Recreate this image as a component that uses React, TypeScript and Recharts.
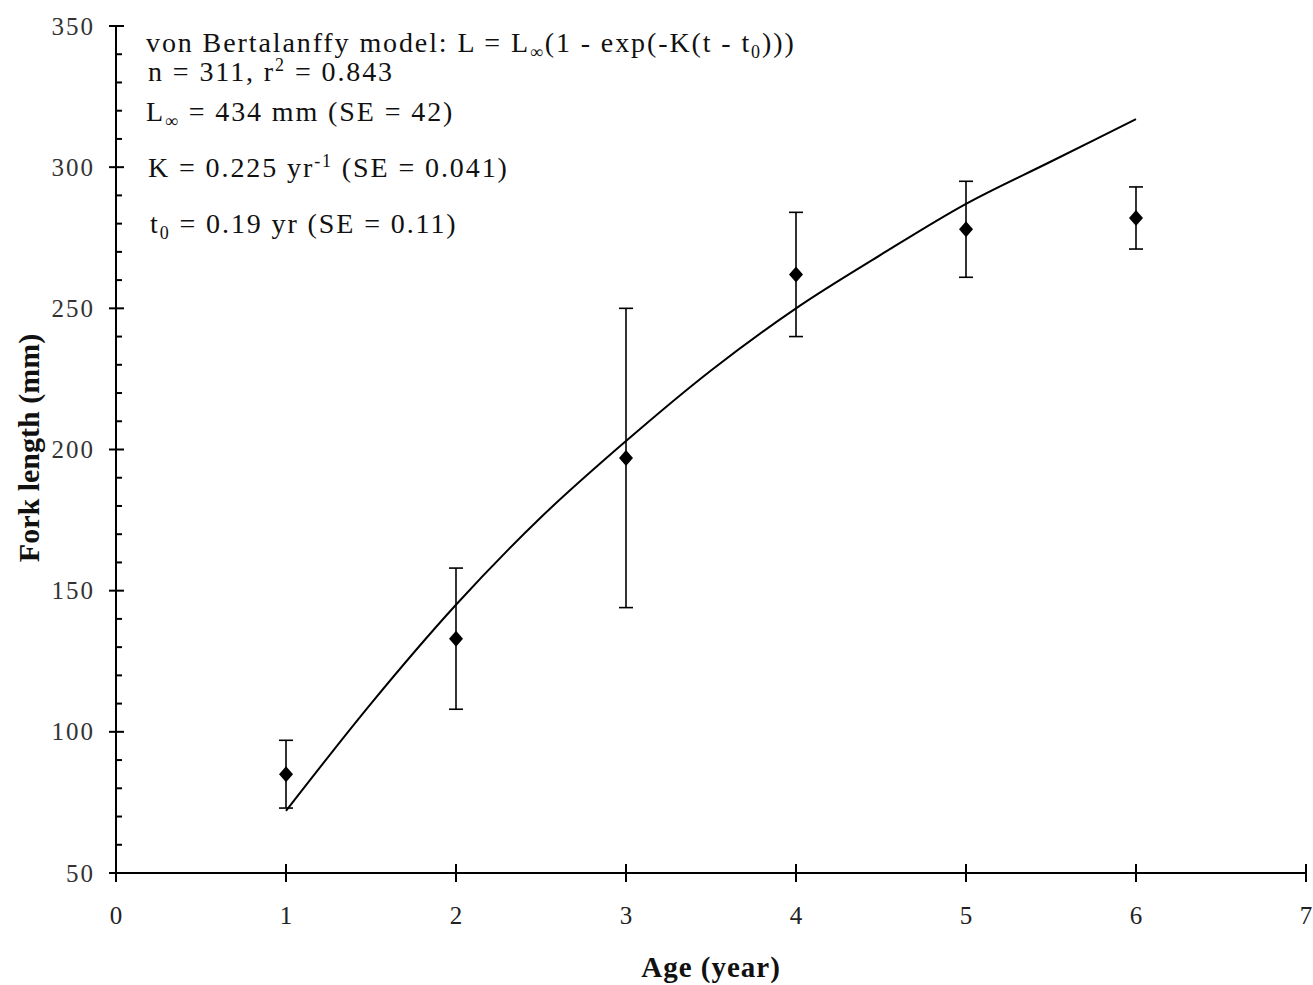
import React from 'react';
import { ComposedChart, Line, Scatter, XAxis, YAxis, ErrorBar } from 'recharts';

// Mean fork length by age class, with the range of the error bars
const ages = [1, 2, 3, 4, 5, 6];
const meanLength = [85, 133, 197, 262, 278, 282];
const lowLength = [73, 108, 144, 240, 261, 271];
const highLength = [97, 158, 250, 284, 295, 293];

// Fitted growth curve, read at half-year steps
const curveAge = [1, 1.5, 2, 2.5, 3, 3.5, 4, 4.5, 5, 5.5, 6];
const curveLength = [72, 110, 145, 176, 203, 228, 250, 269, 287, 302, 317];

const xTicks = [0, 1, 2, 3, 4, 5, 6, 7];
const yMajorTicks = [50, 100, 150, 200, 250, 300, 350];
const yTicks = [
  50, 60, 70, 80, 90, 100, 110, 120, 130, 140, 150, 160, 170, 180, 190, 200,
  210, 220, 230, 240, 250, 260, 270, 280, 290, 300, 310, 320, 330, 340, 350,
];

const pointData = ages.map((age, i) => ({
  age,
  mean: meanLength[i],
  err: [meanLength[i] - lowLength[i], highLength[i] - meanLength[i]],
}));

const curveData = curveAge.map((age, i) => ({ age, fit: curveLength[i] }));

const serif = '"Liberation Serif", "Times New Roman", serif';

const YTick = (props: any) => {
  const { x, y, payload } = props;
  const v = payload.value;
  const major = yMajorTicks.includes(v);
  return (
    <g>
      {major ? (
        <line x1={x - 7} x2={x + 8} y1={y} y2={y} stroke="#000" strokeWidth={2} />
      ) : (
        <line x1={x} x2={x + 6} y1={y} y2={y} stroke="#000" strokeWidth={2} />
      )}
      {major && (
        <text
          x={x - 21}
          y={y}
          textAnchor="end"
          dominantBaseline="central"
          fontFamily={serif}
          fontSize={25}
          letterSpacing={2}
          fill="#333"
        >
          {v}
        </text>
      )}
    </g>
  );
};

const XTick = (props: any) => {
  const { x, y, payload } = props;
  return (
    <g>
      <line x1={x} x2={x} y1={y - 9} y2={y + 9} stroke="#000" strokeWidth={2} />
      <text
        x={x}
        y={y + 42}
        textAnchor="middle"
        dominantBaseline="central"
        fontFamily={serif}
        fontSize={25}
        fill="#222"
      >
        {payload.value}
      </text>
    </g>
  );
};

const Diamond = (props: any) => {
  const { cx, cy } = props;
  return (
    <polygon
      points={`${cx},${cy - 8} ${cx + 7},${cy} ${cx},${cy + 8} ${cx - 7},${cy}`}
      fill="#000"
    />
  );
};

const sub = { fontSize: 18 };

export default function App() {
  return (
    <div
      style={{
        position: 'absolute',
        left: 0,
        top: 0,
        width: 1313,
        height: 985,
        overflow: 'hidden',
        background: '#fff',
      }}
    >
      <ComposedChart
        width={1313}
        height={985}
        margin={{ top: 26, right: 7, left: 0, bottom: 0 }}
      >
        <XAxis
          type="number"
          dataKey="age"
          domain={[0, 7]}
          ticks={xTicks}
          interval={0}
          height={112}
          tickSize={0}
          tickMargin={0}
          tickLine={false}
          axisLine={{ stroke: '#000', strokeWidth: 2 }}
          tick={<XTick />}
          allowDataOverflow
        />
        <YAxis
          type="number"
          domain={[50, 350]}
          ticks={yTicks}
          interval={0}
          width={116}
          tickSize={0}
          tickMargin={0}
          tickLine={false}
          axisLine={{ stroke: '#000', strokeWidth: 2 }}
          tick={<YTick />}
          allowDataOverflow
        />
        <Line
          data={curveData}
          dataKey="fit"
          type="monotone"
          stroke="#000"
          strokeWidth={2}
          dot={false}
          activeDot={false}
          isAnimationActive={false}
        />
        <Scatter
          data={pointData}
          dataKey="mean"
          shape={<Diamond />}
          isAnimationActive={false}
        >
          <ErrorBar
            dataKey="err"
            direction="y"
            width={7}
            stroke="#000"
            strokeWidth={1.6}
            isAnimationActive={false}
          />
        </Scatter>
      </ComposedChart>
      <svg
        width={1313}
        height={985}
        style={{ position: 'absolute', left: 0, top: 0, pointerEvents: 'none' }}
      >
        <g fontFamily={serif} fontSize={28} letterSpacing={1.9} fill="#111">
          <text x={146} y={52}>
            von Bertalanffy model: L = L
            <tspan dy={6} style={sub}>∞</tspan>
            <tspan dy={-6}>(1 - exp(-K(t - t</tspan>
            <tspan dy={6} style={sub}>0</tspan>
            <tspan dy={-6}>)))</tspan>
          </text>
          <text x={148} y={81}>
            n = 311, r
            <tspan dy={-10} style={sub}>2</tspan>
            <tspan dy={10}> = 0.843</tspan>
          </text>
          <text x={146} y={121}>
            L
            <tspan dy={6} style={sub}>∞</tspan>
            <tspan dy={-6}> = 434 mm (SE = 42)</tspan>
          </text>
          <text x={148} y={177}>
            K = 0.225 yr
            <tspan dy={-10} style={sub}>-1</tspan>
            <tspan dy={10}> (SE = 0.041)</tspan>
          </text>
          <text x={150} y={233}>
            t
            <tspan dy={6} style={sub}>0</tspan>
            <tspan dy={-6}> = 0.19 yr (SE = 0.11)</tspan>
          </text>
        </g>
        <text
          x={711}
          y={967}
          textAnchor="middle"
          dominantBaseline="central"
          fontFamily={serif}
          fontWeight="bold"
          fontSize={29}
          letterSpacing={1}
          fill="#111"
        >
          Age (year)
        </text>
        <text
          x={28}
          y={448}
          textAnchor="middle"
          dominantBaseline="central"
          transform="rotate(-90 28 448)"
          fontFamily={serif}
          fontWeight="bold"
          fontSize={30}
          fill="#111"
        >
          Fork length (mm)
        </text>
      </svg>
    </div>
  );
}
